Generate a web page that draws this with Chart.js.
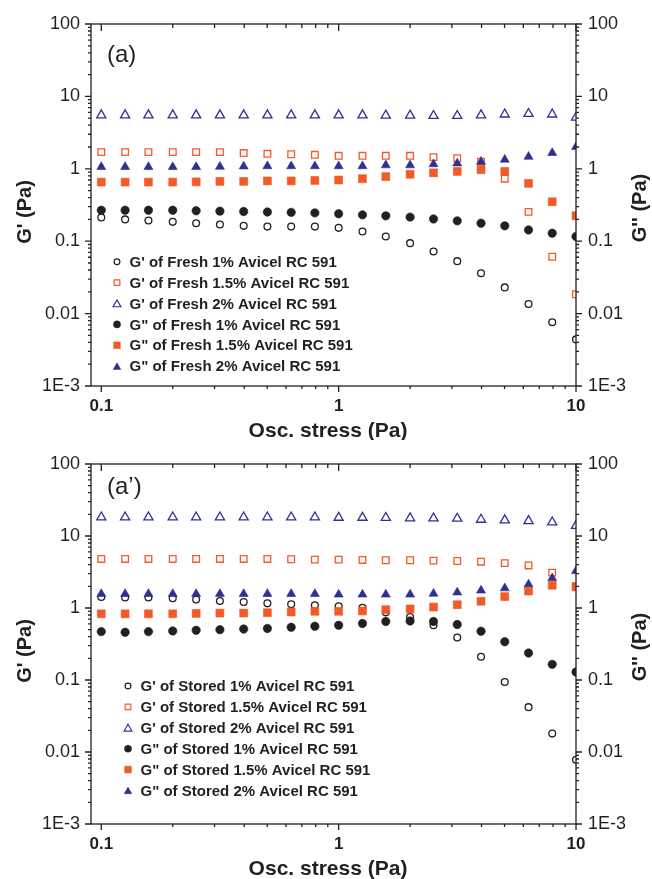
<!DOCTYPE html>
<html>
<head>
<meta charset="utf-8">
<title>G' and G'' vs oscillation stress</title>
<script src="https://cdn.jsdelivr.net/npm/chart.js@4.4.0/dist/chart.umd.min.js"></script>
<style>
	html, body { margin: 0; padding: 0; background: #fff; }
	.panel { position: relative; width: 652px; }
	canvas { display: block; }
</style>
</head>
<body>
<div class="panel" style="height:440px"><canvas id="freshChart"></canvas></div>
<div class="panel" style="height:439px"><canvas id="storedChart"></canvas></div>
<script>
// oscillation stress (Pa), 10 points per decade
const stress = [0.1, 0.126, 0.158, 0.2, 0.251, 0.316, 0.398, 0.501, 0.631, 0.794,
	1, 1.26, 1.58, 2, 2.51, 3.16, 3.98, 5.01, 6.31, 7.94, 10];

const yTickValues = [0.001, 0.01, 0.1, 1, 10, 100];
const yTickLabels = ["1E-3", "0.01", "0.1", "1", "10", "100"];
const xTickValues = [0.1, 1, 10];
const xTickLabels = ["0.1", "1", "10"];

const freshNames = [
	"G' of Fresh 1% Avicel RC 591",
	"G' of Fresh 1.5% Avicel RC 591",
	"G' of Fresh 2% Avicel RC 591",
	"G\" of Fresh 1% Avicel RC 591",
	"G\" of Fresh 1.5% Avicel RC 591",
	"G\" of Fresh 2% Avicel RC 591"
];
const storedNames = [
	"G' of Stored 1% Avicel RC 591",
	"G' of Stored 1.5% Avicel RC 591",
	"G' of Stored 2% Avicel RC 591",
	"G\" of Stored 1% Avicel RC 591",
	"G\" of Stored 1.5% Avicel RC 591",
	"G\" of Stored 2% Avicel RC 591"
];

// (a) fresh
const freshGp1 = [0.212, 0.200, 0.193, 0.185, 0.177, 0.170, 0.163, 0.159, 0.159, 0.159,
	0.153, 0.136, 0.116, 0.094, 0.072, 0.053, 0.036, 0.023, 0.0136, 0.0076, 0.0044];
const freshGp15 = [1.70, 1.70, 1.70, 1.70, 1.70, 1.70, 1.65, 1.61, 1.59, 1.56,
	1.51, 1.51, 1.51, 1.51, 1.45, 1.40, 1.25, 0.73, 0.254, 0.061, 0.0185];
const freshGp2 = [5.5, 5.5, 5.5, 5.5, 5.5, 5.5, 5.5, 5.5, 5.5, 5.5,
	5.5, 5.5, 5.45, 5.45, 5.4, 5.4, 5.5, 5.65, 5.75, 5.65, 5.1];
const freshGpp1 = [0.268, 0.268, 0.268, 0.268, 0.263, 0.260, 0.257, 0.253, 0.250, 0.246,
	0.239, 0.231, 0.224, 0.215, 0.203, 0.191, 0.177, 0.163, 0.143, 0.129, 0.116];
const freshGpp15 = [0.655, 0.655, 0.655, 0.655, 0.66, 0.67, 0.67, 0.68, 0.68, 0.69,
	0.70, 0.73, 0.78, 0.84, 0.88, 0.92, 0.97, 0.92, 0.63, 0.35, 0.225];
const freshGpp2 = [1.06, 1.06, 1.06, 1.06, 1.06, 1.07, 1.08, 1.09, 1.09, 1.09,
	1.09, 1.09, 1.12, 1.12, 1.16, 1.19, 1.25, 1.34, 1.47, 1.66, 2.01];

// (a') stored
const storedGp1 = [1.42, 1.40, 1.40, 1.37, 1.31, 1.25, 1.21, 1.16, 1.13, 1.09,
	1.06, 1.01, 0.87, 0.75, 0.575, 0.39, 0.21, 0.094, 0.042, 0.018, 0.0078];
const storedGp15 = [4.8, 4.8, 4.8, 4.8, 4.8, 4.8, 4.8, 4.8, 4.75, 4.7,
	4.7, 4.65, 4.6, 4.6, 4.55, 4.5, 4.4, 4.2, 3.9, 3.1, 2.0];
const storedGp2 = [18.2, 18.2, 18.2, 18.2, 18.2, 18.2, 18.2, 18.2, 18.2, 18.2,
	18.0, 18.0, 17.9, 17.7, 17.6, 17.5, 16.9, 16.6, 16.2, 15.5, 13.9];
const storedGpp1 = [0.47, 0.46, 0.47, 0.48, 0.49, 0.50, 0.51, 0.52, 0.54, 0.557,
	0.575, 0.61, 0.65, 0.66, 0.65, 0.59, 0.475, 0.34, 0.237, 0.165, 0.129];
const storedGpp15 = [0.83, 0.83, 0.83, 0.83, 0.84, 0.85, 0.85, 0.86, 0.88, 0.90,
	0.90, 0.91, 0.95, 0.97, 1.03, 1.11, 1.24, 1.44, 1.72, 2.07, 1.96];
const storedGpp2 = [1.57, 1.57, 1.57, 1.57, 1.57, 1.57, 1.57, 1.57, 1.57, 1.57,
	1.54, 1.54, 1.54, 1.54, 1.58, 1.65, 1.75, 1.88, 2.13, 2.59, 3.27];

const AXIS = "#231f20";
const BLUE = "#2e3192";
const RED = "#f15a29";
const FONT = "'Liberation Sans', Arial, sans-serif";

// marker per series slot: G' 1%, 1.5%, 2%, G" 1%, 1.5%, 2%
const markers = [
	{ pointStyle: "circle", radius: 3.4, color: AXIS, open: true },
	{ pointStyle: "rect", radius: 4.7, color: RED, open: true },
	{ pointStyle: "triangle", radius: 5.3, color: BLUE, open: true },
	{ pointStyle: "circle", radius: 4.2, color: AXIS, open: false },
	{ pointStyle: "rect", radius: 5.6, color: RED, open: false },
	{ pointStyle: "triangle", radius: 5.2, color: BLUE, open: false }
];

function makeDatasets(series, names) {
	return series.map((vals, i) => {
		const m = markers[i];
		return {
			label: names[i],
			data: stress.map((x, k) => ({ x: x, y: vals[k] })),
			showLine: false,
			pointStyle: m.pointStyle,
			pointRadius: m.radius,
			pointHoverRadius: m.radius,
			pointBorderWidth: m.open ? 1.3 : 0.6,
			pointBorderColor: m.color,
			pointBackgroundColor: m.open ? "#fff" : m.color,
			clip: 0,
			order: m.open ? 1 : 0
		};
	});
}

function yAxis(position, width) {
	return {
		type: "logarithmic",
		position: position,
		min: 0.001,
		max: 100,
		grid: { display: false, drawTicks: false },
		border: { display: false },
		afterBuildTicks: (scale) => {
			scale.ticks = yTickValues.map(v => ({ value: v }));
			scale.min = 0.001;
			scale.max = 100;
		},
		afterFit: (scale) => { scale.width = width; },
		ticks: {
			autoSkip: false,
			padding: position === "left" ? 11 : 12,
			color: AXIS,
			font: { family: FONT, size: 18 },
			callback: (value, index) => yTickLabels[index]
		}
	};
}

function xAxis(height) {
	return {
		type: "logarithmic",
		position: "bottom",
		min: 0.0905,
		max: 10,
		grid: { display: false, drawTicks: false },
		border: { display: false },
		afterBuildTicks: (scale) => {
			scale.ticks = xTickValues.map(v => ({ value: v }));
			scale.min = 0.0905;
			scale.max = 10;
		},
		afterFit: (scale) => { scale.height = height; },
		ticks: {
			autoSkip: false,
			maxRotation: 0,
			padding: 10,
			color: AXIS,
			font: { family: FONT, size: 17, weight: "bold" },
			callback: (value, index) => xTickLabels[index]
		}
	};
}

// frame, tick marks, titles, panel letter and legend
const panelPlugin = {
	id: "panel",
	afterDraw(chart, args, opts) {
		const ctx = chart.ctx;
		const a = chart.chartArea;
		const xs = chart.scales.x;
		const ys = chart.scales.y;
		ctx.save();
		ctx.strokeStyle = AXIS;
		ctx.lineWidth = 1.3;
		ctx.strokeRect(a.left, a.top, a.right - a.left, a.bottom - a.top);

		ctx.beginPath();
		for (let e = -2; e <= 1; e++) {
			for (let m = 1; m <= 9; m++) {
				const v = m * Math.pow(10, e);
				if (v < xs.min || v > xs.max * 1.0001) continue;
				const px = xs.getPixelForValue(v);
				const major = m === 1;
				ctx.moveTo(px, a.bottom);
				ctx.lineTo(px, a.bottom + (major ? 6 : 3));
				ctx.moveTo(px, a.top);
				ctx.lineTo(px, a.top + (major ? 7 : 4));
			}
		}
		for (let e = -3; e <= 2; e++) {
			for (let m = 1; m <= 9; m++) {
				const v = m * Math.pow(10, e);
				if (v > ys.max * 1.0001) continue;
				const py = ys.getPixelForValue(v);
				const len = m === 1 ? 6 : 3;
				ctx.moveTo(a.left, py);
				ctx.lineTo(a.left - len, py);
				ctx.moveTo(a.right, py);
				ctx.lineTo(a.right + len, py);
			}
		}
		ctx.stroke();

		ctx.fillStyle = AXIS;
		// x title
		ctx.font = "bold 21px " + FONT;
		ctx.textAlign = "center";
		ctx.textBaseline = "alphabetic";
		ctx.fillText("Osc. stress (Pa)", 328, a.bottom + 50.5);

		// y titles
		const midY = (a.top + a.bottom) / 2;
		ctx.font = "bold 20px " + FONT;
		ctx.save();
		ctx.translate(31, midY + 7);
		ctx.rotate(-Math.PI / 2);
		ctx.fillText("G' (Pa)", 0, 0);
		ctx.restore();
		ctx.save();
		ctx.translate(646, midY + 3);
		ctx.rotate(-Math.PI / 2);
		ctx.fillText("G'' (Pa)", 0, 0);
		ctx.restore();

		// panel letter
		ctx.textAlign = "left";
		ctx.font = "24px " + FONT;
		ctx.fillText(opts.letter, 107, opts.letterY);

		// legend
		ctx.font = "bold 15px " + FONT;
		ctx.textBaseline = "middle";
		chart.data.datasets.forEach((ds, i) => {
			const m = markers[i];
			const y = opts.legendY + i * 20.9;
			ctx.fillStyle = m.open ? "#fff" : m.color;
			ctx.strokeStyle = m.color;
			ctx.lineWidth = m.open ? 1.2 : 0.5;
			Chart.helpers.drawPoint(ctx, {
				pointStyle: m.pointStyle,
				radius: m.radius * 0.85,
				rotation: 0,
				borderWidth: ctx.lineWidth
			}, opts.legendX, y + (m.pointStyle === "triangle" ? 1 : 0));
			ctx.fillStyle = AXIS;
			ctx.fillText(ds.label, opts.legendX + 12.5, y + 1);
		});
		ctx.restore();
	}
};

function buildChart(id, series, names, xHeight, panelOpts) {
	const ctx = document.getElementById(id).getContext("2d");
	return new Chart(ctx, {
		type: "scatter",
		data: { datasets: makeDatasets(series, names) },
		options: {
			responsive: true,
			maintainAspectRatio: false,
			animation: false,
			layout: { padding: { top: 24, left: 0, right: 0, bottom: 0 } },
			scales: {
				x: xAxis(xHeight),
				y: yAxis("left", 91),
				y2: yAxis("right", 76)
			},
			plugins: {
				legend: { display: false },
				tooltip: { enabled: false },
				panel: panelOpts
			}
		},
		plugins: [panelPlugin]
	});
}

buildChart("freshChart",
	[freshGp1, freshGp15, freshGp2, freshGpp1, freshGpp15, freshGpp2],
	freshNames, 54,
	{ letter: "(a)", letterY: 62, legendX: 117, legendY: 261.7 });

buildChart("storedChart",
	[storedGp1, storedGp15, storedGp2, storedGpp1, storedGpp15, storedGpp2],
	storedNames, 55,
	{ letter: "(a\u2019)", letterY: 54, legendX: 128, legendY: 246 });
</script>
</body>
</html>
